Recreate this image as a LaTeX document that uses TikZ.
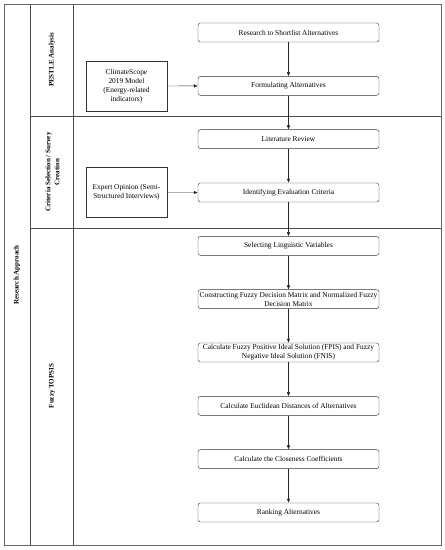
\documentclass[tikz,border=0pt]{standalone}
\usepackage{fontspec}
\setmainfont{Liberation Serif}
\usetikzlibrary{arrows.meta}

\begin{document}
\begin{tikzpicture}[x=1pt,y=-1pt,node distance=53.33pt,
  step node/.style={rectangle,rounded corners=2.5pt,draw=black!80,minimum width=181pt,minimum height=19pt,inner sep=0.5pt,align=center,font=\fontsize{7.4}{9}\selectfont},
  side node/.style={rectangle,draw=black!80,minimum width=81pt,minimum height=50pt,inner sep=1pt,align=center,font=\fontsize{7.4}{9}\selectfont},
  lane label/.style={rotate=90,align=center,font=\bfseries\fontsize{7}{8.8}\selectfont}]
  \useasboundingbox (0,0) rectangle (445,550);

  % frame and lanes
  \draw[black!60,line width=0.8pt] (4,4) rectangle (441,545);
  \draw[black!70] (30,4) -- (30,545);
  \draw[black!70] (73,4) -- (73,545);
  \draw[black!70] (30,116) -- (441,116);
  \draw[black!70] (30,228) -- (441,228);

  \node[lane label] (ra) at (17,275) {Research Approach};
  \node[lane label] (pa) at (52,60) {PESTLE Analysis};
  \node[lane label] (cs) at (52.5,172) {Criteria Selection / Survey\\Creation};
  \node[lane label] (ft) at (52,386) {Fuzzy TOPSIS};

  % steps
  \node[step node] (1) at (288.5,32.5) {Research to Shortlist Alternatives};
  \node[step node] (2) [below of=1] {Formulating Alternatives};
  \node[step node] (3) [below of=2] {Literature Review};
  \node[step node] (4) [below of=3] {Identifying Evaluation Criteria};
  \node[step node] (5) [below of=4] {Selecting Linguistic Variables};
  \node[step node] (6) [below of=5] {Constructing Fuzzy Decision Matrix and Normalized Fuzzy\\Decision Matrix};
  \node[step node] (7) [below of=6] {Calculate Fuzzy Positive Ideal Solution (FPIS) and Fuzzy\\Negative Ideal Solution (FNIS)};
  \node[step node] (8) [below of=7] {Calculate Euclidean Distances of Alternatives};
  \node[step node] (9) [below of=8] {Calculate the Closeness Coefficients};
  \node[step node] (10) [below of=9] {Ranking Alternatives};

  \node[side node] (cl) at (126.5,86) {ClimateScope\\2019 Model\\(Energy-related\\indicators)};
  \node[side node] (ex) at (126.5,192.5) {Expert Opinion (Semi-\\Structured Interviews)};

  \path[-{Latex[length=4pt,width=3.5pt]},every edge/.style={draw=black!85}]
    (1) edge (2)
    (2) edge (3)
    (3) edge (4)
    (4) edge (5)
    (5) edge (6)
    (6) edge (7)
    (7) edge (8)
    (8) edge (9)
    (9) edge (10)
    (cl) edge (2)
    (ex) edge (4);
\end{tikzpicture}
\end{document}
